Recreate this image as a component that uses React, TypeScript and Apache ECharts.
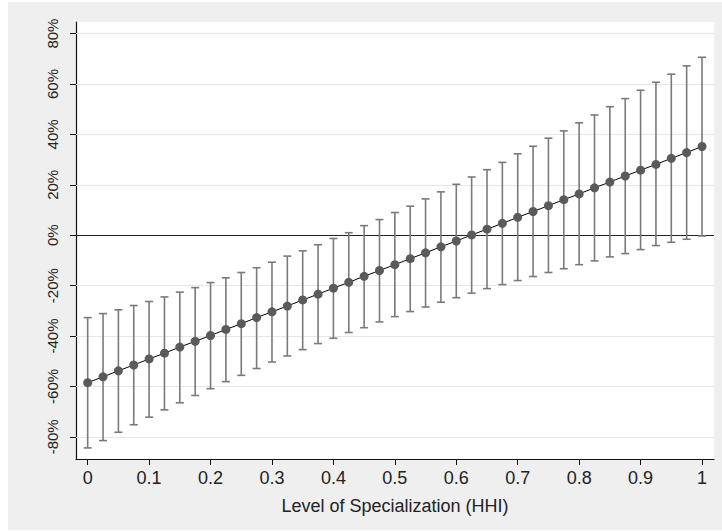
import React, { useEffect, useRef } from "react";
import * as echarts from "echarts";

const xValues = [
  0, 0.025, 0.05, 0.075, 0.1, 0.125, 0.15, 0.175, 0.2, 0.225, 0.25, 0.275, 0.3, 0.325, 0.35, 0.375,
  0.4, 0.425, 0.45, 0.475, 0.5, 0.525, 0.55, 0.575, 0.6, 0.625, 0.65, 0.675, 0.7, 0.725, 0.75,
  0.775, 0.8, 0.825, 0.85, 0.875, 0.9, 0.925, 0.95, 0.975, 1,
];
const estimate = [
  -58.5, -56.2, -53.8, -51.5, -49.1, -46.8, -44.4, -42.1, -39.8, -37.4, -35.1, -32.7, -30.4, -28.1,
  -25.7, -23.4, -21.0, -18.7, -16.3, -14.0, -11.7, -9.3, -7.0, -4.6, -2.3, 0.1, 2.4, 4.7, 7.1, 9.4,
  11.7, 14.1, 16.4, 18.8, 21.1, 23.5, 25.8, 28.1, 30.5, 32.8, 35.2,
];
const upper = [
  -32.7, -31.1, -29.6, -27.9, -26.3, -24.5, -22.6, -20.8, -18.8, -16.9, -14.8, -12.9, -10.7, -8.3,
  -6.2, -3.8, -1.3, 1.0, 3.8, 6.2, 9.0, 11.5, 14.4, 17.2, 20.2, 23.1, 26.0, 28.9, 32.3, 35.3, 38.5,
  41.4, 44.6, 47.7, 51.0, 54.2, 57.5, 60.7, 63.9, 67.2, 70.6,
];
const lower = [
  -84.4, -81.5, -78.2, -75.2, -72.2, -69.3, -66.5, -63.6, -60.9, -58.1, -55.6, -52.9, -50.3, -47.9,
  -45.4, -43.0, -40.9, -38.6, -36.7, -34.4, -32.3, -30.3, -28.5, -26.6, -24.8, -23.0, -21.2, -19.6,
  -18.0, -16.4, -14.8, -13.3, -11.7, -10.2, -8.6, -7.3, -5.7, -4.1, -2.8, -1.6, -0.3,
];
const xTicks = [0, 0.1, 0.2, 0.3, 0.4, 0.5, 0.6, 0.7, 0.8, 0.9, 1];
const yTicks = [-80, -60, -40, -20, 0, 20, 40, 60, 80];
const xTitle = "Level of Specialization (HHI)";

const FONT = "'Liberation Sans', Arial, Helvetica, sans-serif";

export default function App() {
  const ref = useRef<HTMLDivElement>(null);
  useEffect(() => {
    if (!ref.current) return;
    const chart = echarts.init(ref.current, undefined, { renderer: "svg" });
    const ciData = xValues.map((x, i) => [x, lower[i], upper[i]]);
    const estData = xValues.map((x, i) => [x, estimate[i]]);
    chart.setOption({
      animation: false,
      backgroundColor: "#efefef",
      grid: {
        left: 68,
        top: 20,
        right: 8,
        bottom: 71,
        show: true,
        backgroundColor: "#ffffff",
        borderWidth: 0,
      },
      xAxis: {
        type: "value",
        min: -0.019,
        max: 1.0195,
        name: xTitle,
        nameLocation: "middle",
        nameGap: 38,
        nameTextStyle: { fontFamily: FONT, fontSize: 18, color: "#222" },
        axisLine: { show: true, onZero: false, lineStyle: { color: "#111", width: 1.2 } },
        axisTick: { show: true, length: 6, customValues: xTicks, lineStyle: { color: "#111" } },
        axisLabel: {
          customValues: xTicks,
          fontFamily: FONT,
          fontSize: 18,
          color: "#222",
          margin: 10,
          formatter: (v: number) => String(v),
        },
        splitLine: { show: false },
      },
      yAxis: {
        type: "value",
        min: -88.8,
        max: 84.6,
        axisLine: { show: true, onZero: false, lineStyle: { color: "#111", width: 1.2 } },
        axisTick: { show: true, length: 6, customValues: yTicks, lineStyle: { color: "#111" } },
        axisLabel: {
          customValues: yTicks,
          rotate: 90,
          fontFamily: FONT,
          fontSize: 15,
          color: "#222",
          margin: 16,
          formatter: (v: number) => v + "%",
        },
        splitLine: { show: false },
      },
      series: [
        {
          type: "custom",
          data: ciData,
          z: 2,
          renderItem: (params: any, api: any) => {
            const x = api.value(0);
            const lo = api.coord([x, api.value(1)]);
            const hi = api.coord([x, api.value(2)]);
            const hw = 4;
            const style = { stroke: "#7a7a7a", lineWidth: 1.6 };
            return {
              type: "group",
              children: [
                { type: "line", shape: { x1: lo[0], y1: lo[1], x2: hi[0], y2: hi[1] }, style },
                { type: "line", shape: { x1: hi[0] - hw, y1: hi[1], x2: hi[0] + hw, y2: hi[1] }, style },
                { type: "line", shape: { x1: lo[0] - hw, y1: lo[1], x2: lo[0] + hw, y2: lo[1] }, style },
              ],
            };
          },
          markLine: {
            silent: true,
            symbol: "none",
            label: { show: false },
            z: 1,
            data: [
              ...yTicks
                .filter((v) => v !== 0)
                .map((v) => ({ yAxis: v, lineStyle: { color: "#e6e6e6", width: 1.2, type: "solid" } })),
              { yAxis: 0, lineStyle: { color: "#222", width: 1.2, type: "solid" } },
            ],
          },
        },
        {
          type: "line",
          data: estData,
          z: 3,
          symbol: "circle",
          symbolSize: 9,
          itemStyle: { color: "#5a5a5a" },
          lineStyle: { color: "#000", width: 1 },
        },
      ],
    });
    return () => chart.dispose();
  }, []);
  return (
    <div
      ref={ref}
      style={{ position: "absolute", left: 8, top: 2, width: 714, height: 528 }}
    />
  );
}
